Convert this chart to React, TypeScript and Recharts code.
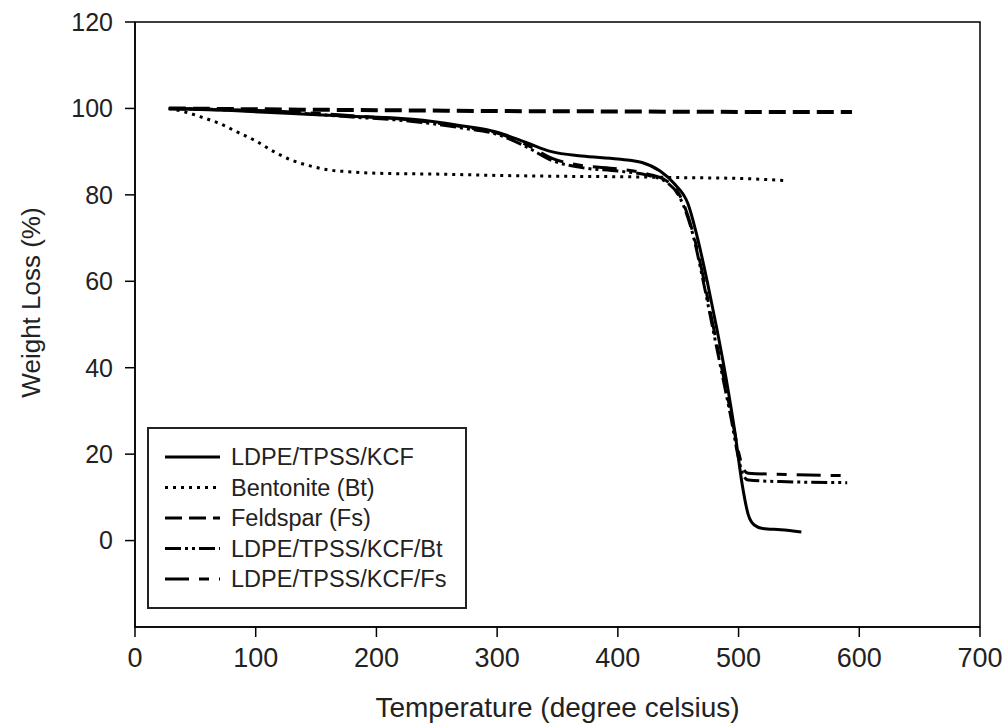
import { LineChart, Line, XAxis, YAxis, ReferenceArea, Legend } from "recharts";

// temperatures (°C) and weight (%) per series
const kcfTemp = [28, 80, 130, 180, 230, 270, 300, 325, 345, 370, 400, 420, 435, 447, 458, 466, 474, 482, 490, 497, 503, 508, 513, 520, 535, 552];
const kcfLoss = [100, 99.5, 98.8, 98.2, 97.5, 96, 94.5, 92, 90, 89, 88.3, 87.5, 85.5, 82.5, 78, 70, 60, 49, 37, 25, 13, 6, 3.6, 2.8, 2.5, 2];

const btTemp = [28, 40, 55, 70, 85, 100, 115, 130, 145, 160, 180, 200, 250, 300, 350, 400, 450, 500, 540];
const btLoss = [100, 99.3, 98, 96.5, 94.5, 92.5, 90, 88, 86.7, 85.8, 85.3, 85, 84.8, 84.5, 84.3, 84.2, 84, 83.8, 83.3];

const fsTemp = [28, 100, 200, 300, 400, 500, 594];
const fsLoss = [100, 99.8, 99.6, 99.4, 99.3, 99.2, 99.2];

const kcfBtTemp = [28, 80, 130, 180, 230, 270, 300, 325, 345, 370, 400, 425, 440, 452, 462, 470, 478, 486, 494, 500, 504, 508, 540, 590];
const kcfBtLoss = [100, 99.6, 99, 98, 97, 95.5, 94, 91, 88, 86.3, 85.5, 84.5, 83, 79, 71, 61, 50, 39, 28, 19, 15, 14, 13.6, 13.4];

const kcfFsTemp = [28, 80, 130, 180, 230, 270, 300, 325, 345, 370, 400, 425, 440, 452, 462, 470, 478, 486, 494, 500, 504, 508, 540, 592];
const kcfFsLoss = [100, 99.7, 99.2, 98.3, 97.3, 95.8, 94.3, 91.5, 88.5, 86.8, 86, 84.8, 83.3, 79.5, 71.5, 62, 51, 40, 29, 20.5, 16.5, 15.6, 15.3, 15];

const xTicks = [0, 100, 200, 300, 400, 500, 600, 700];
const yTicks = [0, 20, 40, 60, 80, 100, 120];

const toPoints = (t: number[], w: number[]) => t.map((x, i) => ({ t: x, w: w[i] }));

const series = [
  { name: "LDPE/TPSS/KCF", data: toPoints(kcfTemp, kcfLoss), dash: undefined, width: 3 },
  { name: "Bentonite (Bt)", data: toPoints(btTemp, btLoss), dash: "3 5", width: 3 },
  { name: "Feldspar (Fs)", data: toPoints(fsTemp, fsLoss), dash: "17 7", width: 4 },
  { name: "LDPE/TPSS/KCF/Bt", data: toPoints(kcfBtTemp, kcfBtLoss), dash: "16 4 3 4 3 4", width: 3 },
  { name: "LDPE/TPSS/KCF/Fs", data: toPoints(kcfFsTemp, kcfFsLoss), dash: "24 10 10 10", width: 3 },
];

const font = "'Liberation Sans', Arial, sans-serif";

function LegendBox() {
  return (
    <div style={{ width: 316, height: 178, border: "2px solid #222", background: "#fff" }}>
      <svg width={316} height={178}>
        {series.map((s, i) => {
          const y = 28 + i * 30.5;
          return (
            <g key={s.name}>
              <line x1={16} x2={71} y1={y} y2={y} stroke="#000" strokeWidth={3} strokeDasharray={s.dash} />
              <text x={82} y={y + 8} fontFamily={font} fontSize={23.5} fill="#222">
                {s.name}
              </text>
            </g>
          );
        })}
      </svg>
    </div>
  );
}

export default function App() {
  return (
    <div style={{ position: "absolute", left: 0, top: 0, background: "#fff" }}>
      <LineChart width={1006} height={725} margin={{ top: 22, right: 26, bottom: 0, left: 0 }}>
        <XAxis
          dataKey="t"
          type="number"
          domain={[0, 700]}
          ticks={xTicks}
          interval={0}
          allowDuplicatedCategory={false}
          height={98}
          stroke="#000"
          strokeWidth={1.5}
          tickSize={10}
          tickMargin={11}
          tick={{ fill: "#222", fontFamily: font, fontSize: 27 }}
          label={{ value: "Temperature (degree celsius)", position: "insideBottom", offset: 8, fill: "#222", fontFamily: font, fontSize: 28 }}
        />
        <YAxis
          type="number"
          domain={[-20, 120]}
          ticks={yTicks}
          interval={0}
          width={135}
          stroke="#000"
          strokeWidth={1.5}
          tickSize={10}
          tickMargin={12}
          tick={{ fill: "#222", fontFamily: font, fontSize: 25 }}
          label={{
            content: ({ viewBox }: any) => (
              <text
                x={31}
                y={viewBox.y + viewBox.height / 2 - 22}
                transform={`rotate(-90 31 ${viewBox.y + viewBox.height / 2 - 22})`}
                textAnchor="middle"
                dominantBaseline="central"
                fontFamily={font}
                fontSize={26}
                fill="#222"
              >
                Weight Loss (%)
              </text>
            ),
          }}
        />
        <ReferenceArea x1={0} x2={700} y1={-20} y2={120} fill="none" stroke="#000" strokeWidth={1.5} ifOverflow="visible" />
        {series.map((s) => (
          <Line
            key={s.name}
            data={s.data}
            dataKey="w"
            name={s.name}
            type="monotone"
            stroke="#000"
            strokeWidth={s.width}
            strokeDasharray={s.dash}
            dot={false}
            activeDot={false}
            isAnimationActive={false}
          />
        ))}
        <Legend
          layout="vertical"
          align="center"
          verticalAlign="middle"
          content={() => <LegendBox />}
          wrapperStyle={{ left: 147, top: 427, width: 320, height: 182 }}
        />
      </LineChart>
    </div>
  );
}
